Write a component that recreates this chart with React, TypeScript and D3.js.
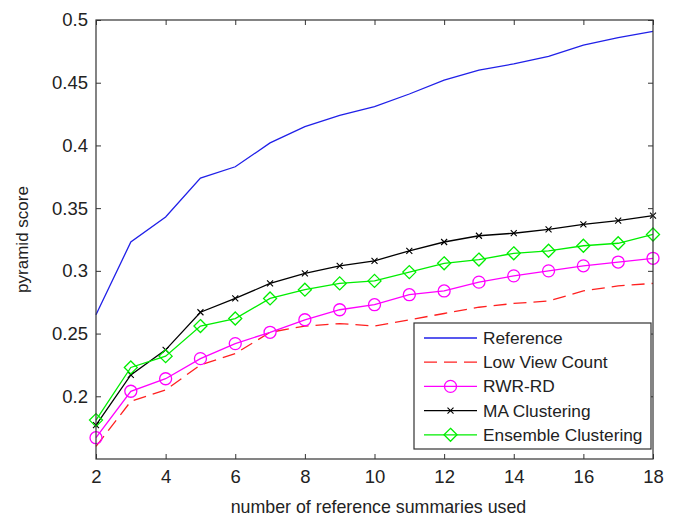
import React, { useRef, useEffect } from 'react';
import * as d3 from 'd3';

const xValues = [2, 3, 4, 5, 6, 7, 8, 9, 10, 11, 12, 13, 14, 15, 16, 17, 18];
const xTicks = [2, 4, 6, 8, 10, 12, 14, 16, 18];
const yTicks = [0.2, 0.25, 0.3, 0.35, 0.4, 0.45, 0.5];

const referenceScores = [0.265, 0.323, 0.343, 0.374, 0.383, 0.402, 0.415, 0.424, 0.431, 0.441, 0.452, 0.460, 0.465, 0.471, 0.480, 0.486, 0.491];
const lowViewScores = [0.160, 0.196, 0.205, 0.225, 0.234, 0.251, 0.256, 0.258, 0.256, 0.261, 0.266, 0.271, 0.274, 0.276, 0.284, 0.288, 0.290];
const rwrScores = [0.167, 0.204, 0.214, 0.230, 0.242, 0.251, 0.261, 0.269, 0.273, 0.281, 0.284, 0.291, 0.296, 0.300, 0.304, 0.307, 0.310];
const maScores = [0.177, 0.217, 0.237, 0.267, 0.278, 0.290, 0.298, 0.304, 0.308, 0.316, 0.323, 0.328, 0.330, 0.333, 0.337, 0.340, 0.344];
const ensembleScores = [0.181, 0.223, 0.232, 0.256, 0.262, 0.278, 0.285, 0.290, 0.292, 0.299, 0.306, 0.309, 0.314, 0.316, 0.320, 0.322, 0.329];

const series = [
  { name: 'Reference', values: referenceScores, color: '#2020e8', dash: null, marker: 'none' },
  { name: 'Low View Count', values: lowViewScores, color: '#ff2020', dash: '13,7', marker: 'none' },
  { name: 'RWR-RD', values: rwrScores, color: '#ff00ff', dash: null, marker: 'circle' },
  { name: 'MA Clustering', values: maScores, color: '#000000', dash: null, marker: 'x' },
  { name: 'Ensemble Clustering', values: ensembleScores, color: '#00ee00', dash: null, marker: 'diamond' },
];

const FONT = '"Liberation Sans", Arial, sans-serif';

const drawMarker = (g, type, cx, cy, color) => {
  if (type === 'circle') {
    g.append('circle').attr('cx', cx).attr('cy', cy).attr('r', 6)
      .attr('fill', 'none').attr('stroke', color).attr('stroke-width', 1.3);
  } else if (type === 'diamond') {
    const s = 6.5;
    g.append('path')
      .attr('d', `M${cx},${cy - s}L${cx + s},${cy}L${cx},${cy + s}L${cx - s},${cy}Z`)
      .attr('fill', 'none').attr('stroke', color).attr('stroke-width', 1.3);
  } else if (type === 'x') {
    const s = 3;
    g.append('path')
      .attr('d', `M${cx - s},${cy - s}L${cx + s},${cy + s}M${cx - s},${cy + s}L${cx + s},${cy - s}`)
      .attr('stroke', color).attr('stroke-width', 1.1);
  }
};

const App = () => {
  const ref = useRef(null);
  const width = 679;
  const height = 517;

  useEffect(() => {
    const svg = d3.select(ref.current);
    svg.selectAll('*').remove();

    const margin = { top: 20, right: 26, bottom: 58, left: 96 };
    const innerWidth = width - margin.left - margin.right;
    const innerHeight = height - margin.top - margin.bottom;

    const x = d3.scaleLinear().domain([2, 18]).range([0, innerWidth]);
    const y = d3.scaleLinear().domain([0.15, 0.5]).range([innerHeight, 0]);

    const g = svg.append('g').attr('transform', `translate(${margin.left},${margin.top})`);

    // lines
    series.forEach(s => {
      const line = d3.line()
        .x((d, i) => x(xValues[i]))
        .y(d => y(d));
      g.append('path')
        .datum(s.values)
        .attr('fill', 'none')
        .attr('stroke', s.color)
        .attr('stroke-width', 1.3)
        .attr('stroke-dasharray', s.dash)
        .attr('d', line);
      if (s.marker !== 'none') {
        s.values.forEach((v, i) => drawMarker(g, s.marker, x(xValues[i]), y(v), s.color));
      }
    });

    // axes (ticks inward, on all four sides)
    const tickLen = 5;
    const styleAxis = (sel) => {
      sel.select('.domain').remove();
      sel.selectAll('line').attr('stroke', '#333');
      sel.selectAll('text').attr('font-family', FONT).attr('font-size', 18.5).attr('fill', '#222');
    };

    g.append('g')
      .attr('transform', `translate(0,${innerHeight})`)
      .call(d3.axisBottom(x).tickValues(xTicks).tickSize(-tickLen).tickPadding(11).tickFormat(d3.format('d')))
      .call(styleAxis);
    g.append('g')
      .call(d3.axisTop(x).tickValues(xTicks).tickSize(-tickLen).tickFormat(''))
      .call(styleAxis);
    g.append('g')
      .call(d3.axisLeft(y).tickValues(yTicks).tickSize(-tickLen).tickPadding(8).tickFormat(d => String(+d.toFixed(2))))
      .call(styleAxis);
    g.append('g')
      .attr('transform', `translate(${innerWidth},0)`)
      .call(d3.axisRight(y).tickValues(yTicks).tickSize(-tickLen).tickFormat(''))
      .call(styleAxis);

    // frame
    g.append('rect')
      .attr('width', innerWidth)
      .attr('height', innerHeight)
      .attr('fill', 'none')
      .attr('stroke', '#333')
      .attr('stroke-width', 1.2);

    // axis titles
    svg.append('text')
      .attr('x', margin.left + innerWidth / 2 + 4)
      .attr('y', height - 4)
      .attr('text-anchor', 'middle')
      .attr('font-family', FONT)
      .attr('font-size', 17.8)
      .attr('fill', '#222')
      .text('number of reference summaries used');

    svg.append('text')
      .attr('transform', 'rotate(-90)')
      .attr('x', -(margin.top + innerHeight / 2))
      .attr('y', 28)
      .attr('text-anchor', 'middle')
      .attr('font-family', FONT)
      .attr('font-size', 17)
      .attr('fill', '#222')
      .text('pyramid score');

    // legend
    const legend = svg.append('g').attr('transform', 'translate(414,323)');
    legend.append('rect')
      .attr('width', 237)
      .attr('height', 126)
      .attr('fill', '#fff')
      .attr('stroke', '#333')
      .attr('stroke-width', 1.2);

    series.forEach((s, i) => {
      const ly = 15 + i * 24.2;
      legend.append('line')
        .attr('x1', 10).attr('x2', 63)
        .attr('y1', ly).attr('y2', ly)
        .attr('stroke', s.color)
        .attr('stroke-width', 1.3)
        .attr('stroke-dasharray', s.dash);
      if (s.marker !== 'none') drawMarker(legend, s.marker, 36.5, ly, s.color);
      legend.append('text')
        .attr('x', 69)
        .attr('y', ly + 6)
        .attr('font-family', FONT)
        .attr('font-size', 17.3)
        .attr('fill', '#222')
        .text(s.name);
    });
  }, []);

  return (
    <svg
      ref={ref}
      width={width}
      height={height}
      style={{ position: 'absolute', left: 0, top: 0, background: '#fff' }}
    />
  );
};

export default App;
